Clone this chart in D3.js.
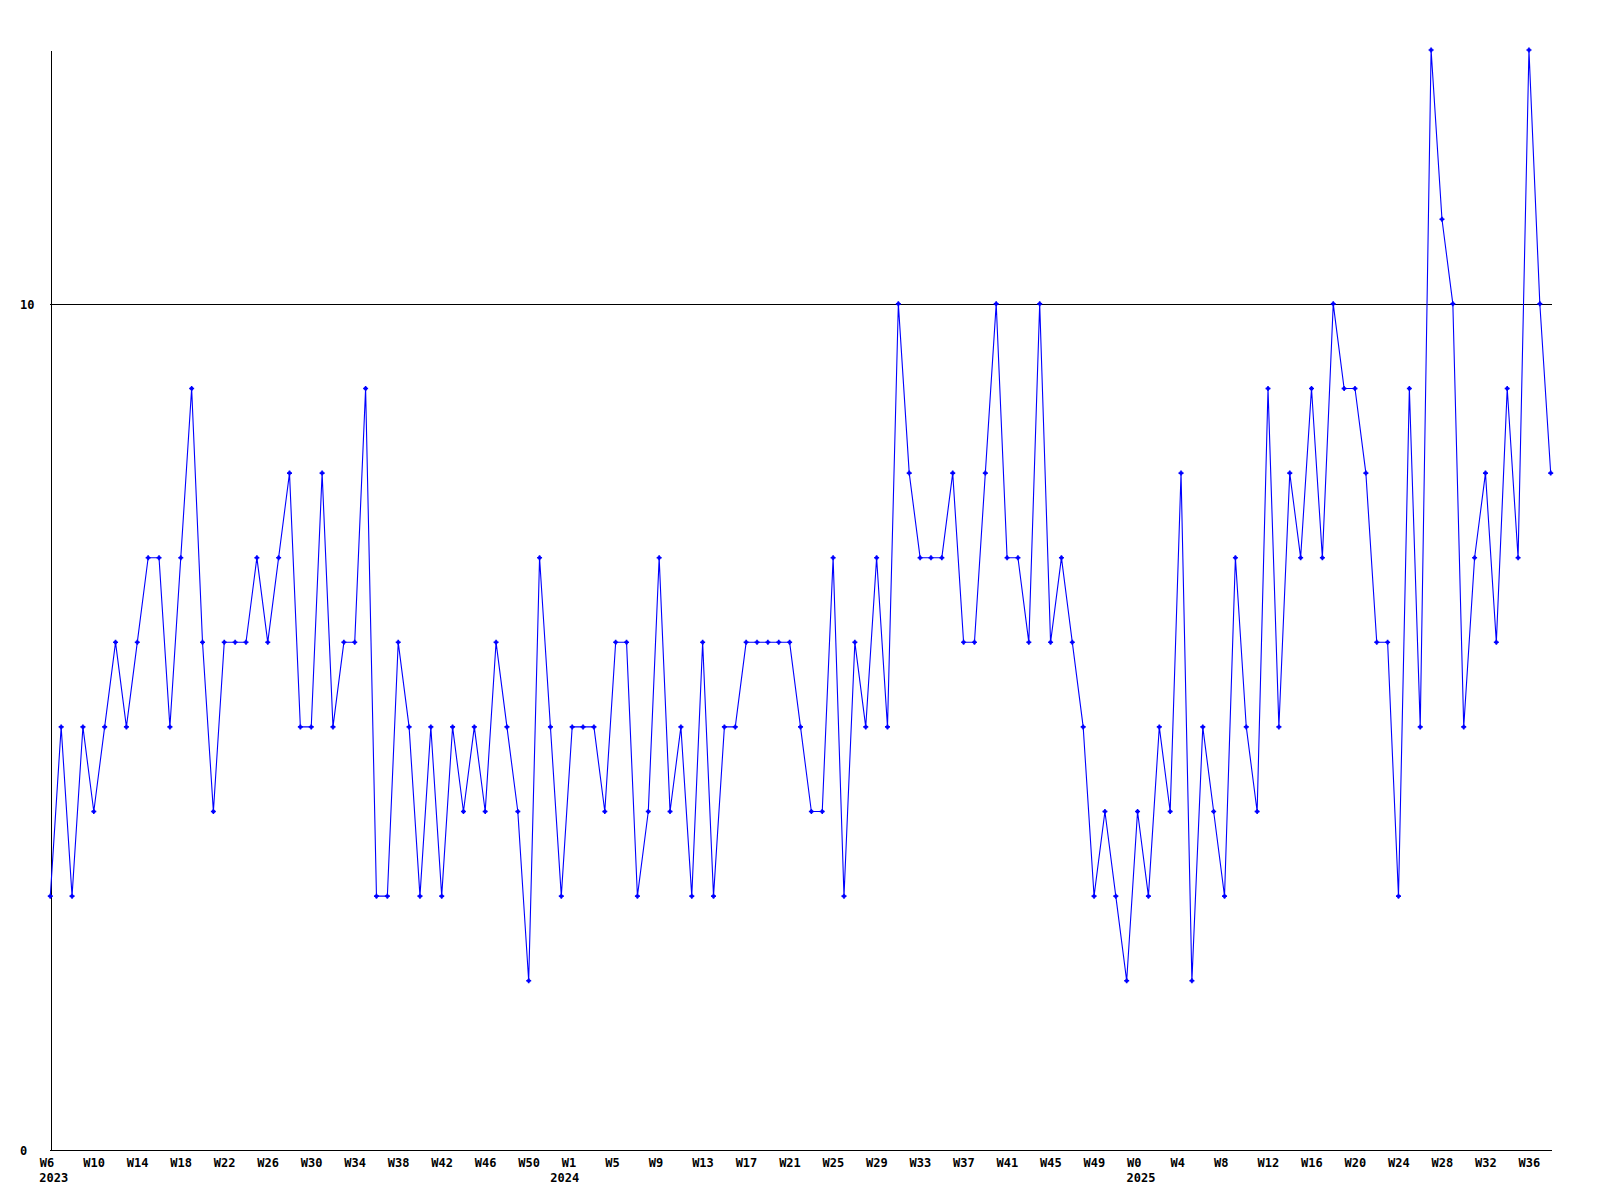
<!DOCTYPE html>
<html>
<head>
<meta charset="utf-8">
<script src="https://cdn.jsdelivr.net/npm/d3@7"></script>
<style>
  body { margin: 0; background: #fff; }
  #chart text { font-family: "DejaVu Sans Mono", monospace; font-weight: bold; font-size: 12px; fill: #000; }
</style>
</head>
<body>
<div id="chart"></div>
<script>
// weekly values, 2023 W6 .. 2025 W38
const values = [
  3,5,3,5,4,5,6,5,6,7,7,5,7,9,6,4,6,6,6,7,6,7,8,5,
  5,8,5,6,6,9,3,3,6,5,3,5,3,5,4,5,4,6,5,4,2,7,5,
  3,5,5,5,4,6,6,3,4,7,4,5,3,6,3,5,5,6,6,6,6,6,5,
  4,4,7,3,6,5,7,5,10,8,7,7,7,8,6,6,8,10,7,7,6,10,6,
  7,6,5,3,4,3,2,4,3,5,4,8,2,5,4,3,7,5,4,9,5,8,7,
  9,7,10,9,9,8,6,6,3,9,5,13,11,10,5,7,8,6,9,7,13,10,8
];

// x tick labels, one every 4 points
const weekLabels = [
  "W6","W10","W14","W18","W22","W26","W30","W34","W38","W42","W46","W50",
  "W1","W5","W9","W13","W17","W21","W25","W29","W33","W37","W41","W45","W49",
  "W0","W4","W8","W12","W16","W20","W24","W28","W32","W36"
];
const tickStep = 4;

const yearLabels = ["2023", "2024", "2025"];
const yearIndex = [0, 47, 100];

const yTicks = [0, 10];
const gridValues = [10];

const width = 1600, height = 1200;
const plot = { left: 50.3, right: 1550.7, top: 50, bottom: 1150 };

const svg = d3.select("#chart").append("svg")
  .attr("width", width)
  .attr("height", height);

const x = d3.scaleLinear().domain([0, values.length - 1]).range([plot.left, plot.right]);
const y = d3.scaleLinear().domain([0, d3.max(values)]).range([plot.bottom, plot.top]);

// grid line at 10
svg.append("g")
  .selectAll("line")
  .data(gridValues)
  .join("line")
  .attr("x1", plot.left).attr("x2", plot.right + 1)
  .attr("y1", d => Math.round(y(d)) + 0.5).attr("y2", d => Math.round(y(d)) + 0.5)
  .attr("stroke", "#000")
  .attr("shape-rendering", "crispEdges");

// bottom axis
const xAxis = svg.append("g")
  .attr("transform", `translate(0, ${plot.bottom + 0.5})`)
  .call(d3.axisBottom(x)
    .tickValues(weekLabels.map((d, i) => i * tickStep))
    .tickFormat((d, i) => weekLabels[i])
    .tickSize(0)
    .tickSizeOuter(0));
xAxis.select(".domain").attr("stroke", "#000").attr("shape-rendering", "crispEdges")
  .attr("d", `M${plot.left},0H${plot.right + 1}`);
xAxis.selectAll("text")
  .attr("text-anchor", "start")
  .attr("x", -11)
  .attr("y", 16.5)
  .attr("dy", null);

// year labels under the week labels
svg.append("g")
  .selectAll("text")
  .data(yearLabels)
  .join("text")
  .attr("x", (d, i) => x(yearIndex[i]) - 11)
  .attr("y", plot.bottom + 32)
  .text(d => d);

// left axis
const yAxis = svg.append("g")
  .attr("transform", `translate(${Math.floor(plot.left) + 0.5}, 0)`)
  .call(d3.axisLeft(y).tickValues(yTicks).tickSize(0).tickSizeOuter(0));
yAxis.select(".domain").attr("stroke", "#000").attr("shape-rendering", "crispEdges");
yAxis.selectAll("text")
  .attr("text-anchor", "start")
  .attr("x", -30.5)
  .attr("dy", "0.35em");

// the series line
const line = d3.line()
  .x((d, i) => x(i))
  .y(d => y(d));

svg.append("path")
  .datum(values)
  .attr("d", line)
  .attr("fill", "none")
  .attr("stroke", "#0000ff")
  .attr("stroke-width", 1.1);

// small plus markers
svg.append("g")
  .selectAll("path")
  .data(values)
  .join("path")
  .attr("transform", (d, i) => `translate(${x(i)}, ${y(d)})`)
  .attr("d", "M-2.5,-0.8H2.5V0.8H-2.5Z M-0.8,-2.5H0.8V2.5H-0.8Z M-1.5,-1.5H1.5V1.5H-1.5Z")
  .attr("fill", "#0000ff");
</script>
</body>
</html>
